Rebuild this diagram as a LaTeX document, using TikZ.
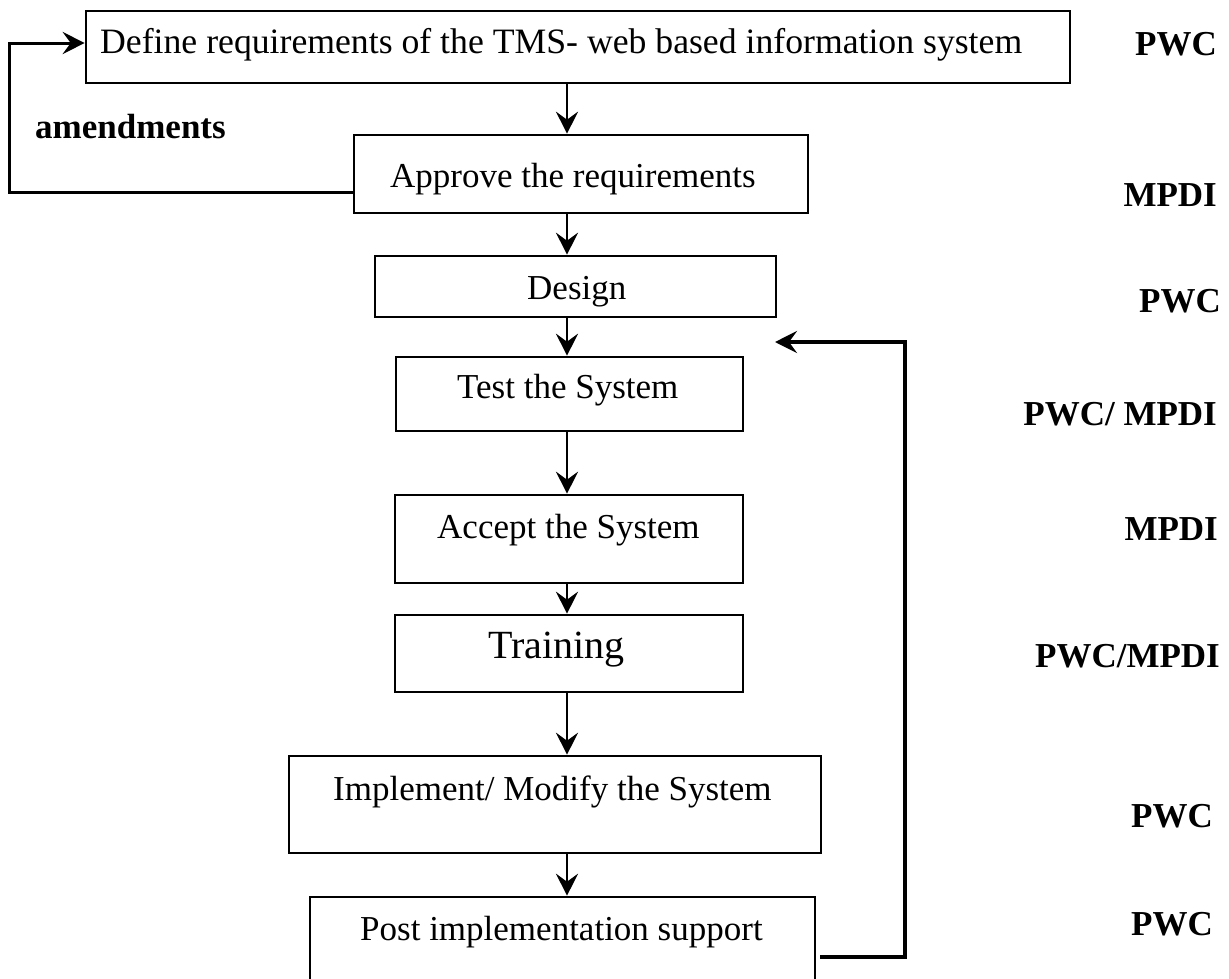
\documentclass[tikz,border=0pt]{standalone}
\usepackage{fontspec}
\setmainfont{Liberation Serif}
\usetikzlibrary{arrows.meta}
\tikzset{
  box/.style={draw, line width=2.6pt, rectangle, inner sep=0pt},
  boxtext/.style={anchor=base west, inner sep=0pt, font=\fontsize{35}{40}\selectfont},
  role/.style={anchor=base east, inner sep=0pt, font=\fontsize{35}{40}\selectfont\bfseries},
  conn/.style={line width=2.4pt, line join=miter, -{Stealth[length=22pt,width=22pt,inset=8pt]}},
  loopline/.style={line width=3pt, line join=miter}
}
\begin{document}
\begin{tikzpicture}[x=1pt,y=-1pt]
\useasboundingbox (0,0) rectangle (1229,978);
\clip (0,0) rectangle (1229,978);

% boxes
\node[box, minimum width=984pt, minimum height=72pt] (def) at (578,47) {};
\node[box, minimum width=454pt, minimum height=78pt] (app) at (581,174) {};
\node[box, minimum width=401pt, minimum height=61pt] (des) at (575.5,286.5) {};
\node[box, minimum width=347pt, minimum height=74pt] (test) at (569.5,394) {};
\node[box, minimum width=348pt, minimum height=88pt] (acc) at (569,539) {};
\node[box, minimum width=348pt, minimum height=77pt] (tra) at (569,653.5) {};
\node[box, minimum width=532pt, minimum height=97pt] (imp) at (555,804.5) {};
\node[box, minimum width=505pt, minimum height=120pt] (post) at (562.5,957) {};

% box texts
\node[boxtext, font=\fontsize{35.7}{40}\selectfont] (deft) at (100,53) {Define requirements of the TMS- web based information system};
\node[boxtext] (appt) at (390,187) {Approve the requirements};
\node[boxtext] (dest) at (527,299) {Design};
\node[boxtext] (testt) at (457,398) {Test the System};
\node[boxtext] (acct) at (437,538) {Accept the System};
\node[boxtext, font=\fontsize{40}{44}\selectfont] (trat) at (488,658) {Training};
\node[boxtext] (impt) at (333,800) {Implement/ Modify the System};
\node[boxtext] (postt) at (360,940) {Post implementation support};

% loop label
\node[boxtext, font=\fontsize{35}{40}\selectfont\bfseries] (amend) at (35,138) {amendments};

% responsibility labels
\node[role] (r1) at (1217,55) {PWC};
\node[role] (r2) at (1217,206) {MPDI};
\node[role] (r3) at (1221,312) {PWC};
\node[role] (r4) at (1217,425) {PWC/ MPDI};
\node[role] (r5) at (1218,540) {MPDI};
\node[role] (r6) at (1220,667) {PWC/MPDI};
\node[role] (r7) at (1213,827) {PWC};
\node[role] (r8) at (1213,935) {PWC};

% main flow
\coordinate (col) at (567,0);
\draw[conn] (def.south -| col) -- (app.north -| col);
\draw[conn] (app.south -| col) -- (des.north -| col);
\draw[conn] (des.south -| col) -- (test.north -| col);
\draw[conn] (test.south -| col) -- (acc.north -| col);
\draw[conn] (acc.south -| col) -- (tra.north -| col);
\draw[conn] (tra.south -| col) -- (imp.north -| col);
\draw[conn] (imp.south -| col) -- (post.north -| col);

% amendments loop
\coordinate (al) at (9,192);
\coordinate (at) at (9,43);
\draw[conn, line width=3pt] (app.west |- al) -- (al) -- (at) -- (def.west |- at);

% feedback loop
\coordinate (fbc) at (905,957);
\coordinate (fbt) at (905,342);
\coordinate (fbend) at (775,342);
\draw[conn, line width=3.2pt] ([xshift=4pt]post.east) -- (fbc) -- (fbt) -- (fbend);
\end{tikzpicture}
\end{document}
